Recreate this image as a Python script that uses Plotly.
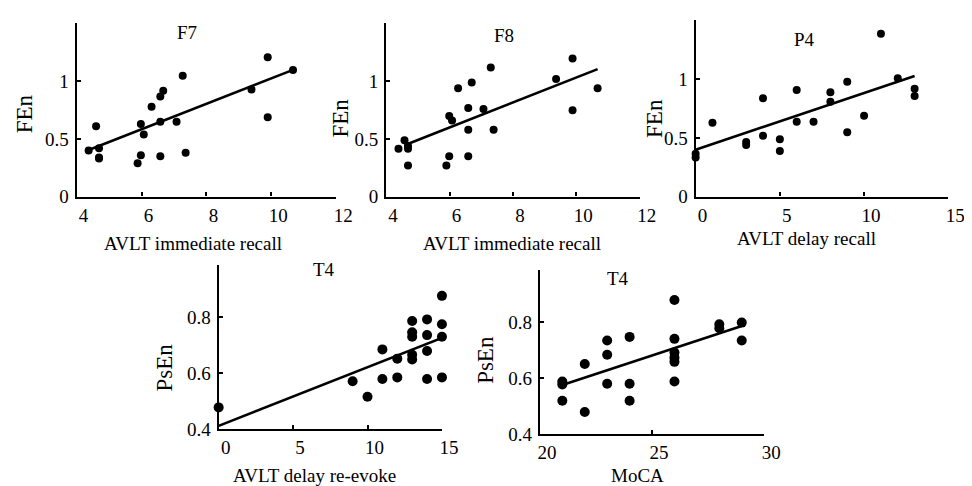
import plotly.graph_objects as go

W, H = 972, 486
FONT = "Liberation Serif"

# ---------------- data ----------------
# Panel 1: F7, FEn vs AVLT immediate recall
f7_x = [4.37, 4.60, 4.69, 4.69, 4.69, 5.88, 5.98, 5.98, 6.07, 6.31, 6.58, 6.67, 6.58, 6.58, 7.08, 7.27, 7.36, 9.39, 9.89, 9.89, 10.67]
f7_y = [0.40, 0.61, 0.42, 0.34, 0.33, 0.29, 0.36, 0.63, 0.54, 0.78, 0.87, 0.92, 0.65, 0.35, 0.65, 1.05, 0.38, 0.93, 1.21, 0.69, 1.10]
f7_fit_x = [4.37, 10.67]
f7_fit_y = [0.405, 1.10]

# Panel 2: F8, FEn vs AVLT immediate recall
f8_x = [4.39, 4.58, 4.69, 4.69, 4.69, 5.90, 5.99, 5.99, 6.08, 6.27, 6.59, 6.59, 6.59, 6.70, 7.07, 7.30, 7.39, 9.36, 9.88, 9.88, 10.67]
f8_y = [0.415, 0.49, 0.415, 0.44, 0.27, 0.27, 0.35, 0.70, 0.66, 0.94, 0.77, 0.58, 0.35, 0.99, 0.76, 1.12, 0.58, 1.02, 1.20, 0.75, 0.94]
f8_fit_x = [4.58, 10.67]
f8_fit_y = [0.446, 1.107]

# Panel 3: P4, FEn vs AVLT delay recall
p4_x = [0, 0, 1, 3, 3, 4, 4, 5, 5, 6, 6, 7, 8, 8, 9, 9, 10, 11, 12, 13, 13]
p4_y = [0.367, 0.333, 0.63, 0.467, 0.44, 0.84, 0.52, 0.49, 0.39, 0.91, 0.64, 0.64, 0.89, 0.81, 0.98, 0.55, 0.69, 1.39, 1.01, 0.92, 0.86]
p4_fit_x = [0, 13]
p4_fit_y = [0.40, 1.03]

# Panel 4: T4, PsEn vs AVLT delay re-evoke
t4a_x = [0, 9, 10, 11, 11, 12, 12, 13, 13, 13, 13, 13, 14, 14, 14, 14, 15, 15, 15, 15]
t4a_y = [0.478, 0.571, 0.516, 0.685, 0.579, 0.652, 0.585, 0.786, 0.746, 0.730, 0.666, 0.649,
         0.792, 0.736, 0.679, 0.579, 0.876, 0.775, 0.730, 0.585]
t4a_fit_x = [0, 15]
t4a_fit_y = [0.412, 0.726]

# Panel 5: T4, PsEn vs MoCA
t4b_x = [21, 21, 21, 22, 22, 23, 23, 23, 24, 24, 24, 26, 26, 26, 26, 26, 26, 28, 28, 29, 29]
t4b_y = [0.588, 0.577, 0.519, 0.650, 0.479, 0.734, 0.683, 0.580, 0.747, 0.580, 0.519,
         0.879, 0.740, 0.691, 0.673, 0.658, 0.588, 0.792, 0.778, 0.798, 0.734]
t4b_fit_x = [21, 29]
t4b_fit_y = [0.575, 0.786]

panels = [
    dict(x=f7_x, y=f7_y, fx=f7_fit_x, fy=f7_fit_y, title="F7", xtitle="AVLT immediate recall", ytitle="FEn",
         box=(67, 332, 15, 193), xr=[4, 12], yr=[0, 1.51], xt=[4, 6, 8, 10, 12], yt=[0, 0.5, 1],
         ytl=["0", "0.5", "1"], tpos=(180, 25), xtpos=(186, 241), ytpos=(14, 108), ms=8),
    dict(x=f8_x, y=f8_y, fx=f8_fit_x, fy=f8_fit_y, title="F8", xtitle="AVLT immediate recall", ytitle="FEn",
         box=(383, 642, 15, 193), xr=[4, 12], yr=[0, 1.51], xt=[4, 6, 8, 10, 12], yt=[0, 0.5, 1],
         ytl=["0", "0.5", "1"], tpos=(503, 28), xtpos=(512, 241), ytpos=(336, 113), ms=8),
    dict(x=p4_x, y=p4_y, fx=p4_fit_x, fy=p4_fit_y, title="P4", xtitle="AVLT delay recall", ytitle="FEn",
         box=(699, 957, 12, 193), xr=[0, 15], yr=[0, 1.51], xt=[0, 5, 10, 15], yt=[0, 0.5, 1],
         ytl=["0", "0.5", "1"], tpos=(810, 32), xtpos=(812, 236), ytpos=(657, 113), ms=8),
    dict(x=t4a_x, y=t4a_y, fx=t4a_fit_x, fy=t4a_fit_y, title="T4", xtitle="AVLT delay re-evoke", ytitle="PsEn",
         box=(212, 440, 263, 431), xr=[0, 15], yr=[0.4, 0.986], xt=[0, 5, 10, 15], yt=[0.4, 0.6, 0.8],
         ytl=["0.4", "0.6", "0.8"], tpos=(320, 268), xtpos=(310, 478), ytpos=(157, 368), ms=10),
    dict(x=t4b_x, y=t4b_y, fx=t4b_fit_x, fy=t4b_fit_y, title="T4", xtitle="MoCA", ytitle="PsEn",
         box=(540, 769, 268, 436), xr=[20, 30], yr=[0.4, 0.986], xt=[20, 25, 30], yt=[0.4, 0.6, 0.8],
         ytl=["0.4", "0.6", "0.8"], tpos=(620, 277), xtpos=(640, 478), ytpos=(485, 360), ms=10),
]

fig = go.Figure()
annotations = []
layout = {}
for i, p in enumerate(panels, start=1):
    xa = "x" if i == 1 else f"x{i}"
    ya = "y" if i == 1 else f"y{i}"
    x0, x1, y0, y1 = p["box"]
    fig.add_trace(go.Scatter(x=p["x"], y=p["y"], mode="markers", xaxis=xa, yaxis=ya,
                             marker=dict(color="black", size=p["ms"]), cliponaxis=False,
                             showlegend=False, hoverinfo="x+y"))
    fig.add_trace(go.Scatter(x=p["fx"], y=p["fy"], mode="lines", xaxis=xa, yaxis=ya,
                             line=dict(color="black", width=2.6), cliponaxis=False,
                             showlegend=False, hoverinfo="skip"))
    common = dict(showgrid=False, zeroline=False, showline=True, linecolor="black", linewidth=2.3,
                  ticks="inside", ticklen=4, tickwidth=1.5, tickcolor="black",
                  tickfont=dict(family=FONT, size=19, color="black"), fixedrange=True)
    layout["xaxis" if i == 1 else f"xaxis{i}"] = dict(
        domain=[x0 / W, x1 / W], range=p["xr"], tickvals=p["xt"], anchor=ya,
        ticklabelshift=7, ticklabelstandoff=0, **common)
    layout["yaxis" if i == 1 else f"yaxis{i}"] = dict(
        domain=[1 - y1 / H, 1 - y0 / H], range=p["yr"], tickvals=p["yt"], ticktext=p["ytl"],
        anchor=xa, ticklabelstandoff=2, **common)
    tx, ty = p["tpos"]
    annotations.append(dict(text=p["title"], x=tx / W, y=1 - ty / H, xref="paper", yref="paper",
                            showarrow=False, xanchor="center", yanchor="middle",
                            font=dict(family=FONT, size=19, color="black")))
    tx, ty = p["xtpos"]
    annotations.append(dict(text=p["xtitle"], x=tx / W, y=1 - ty / H, xref="paper", yref="paper",
                            showarrow=False, xanchor="center", yanchor="middle",
                            font=dict(family=FONT, size=19, color="black")))
    tx, ty = p["ytpos"]
    annotations.append(dict(text=p["ytitle"], x=tx / W, y=1 - ty / H, xref="paper", yref="paper",
                            showarrow=False, xanchor="center", yanchor="middle", textangle=-90,
                            font=dict(family=FONT, size=23, color="black")))

fig.update_layout(width=W, height=H, margin=dict(l=0, r=0, t=0, b=0),
                  paper_bgcolor="white", plot_bgcolor="white",
                  annotations=annotations, **layout)
fig.write_html("out.html")
